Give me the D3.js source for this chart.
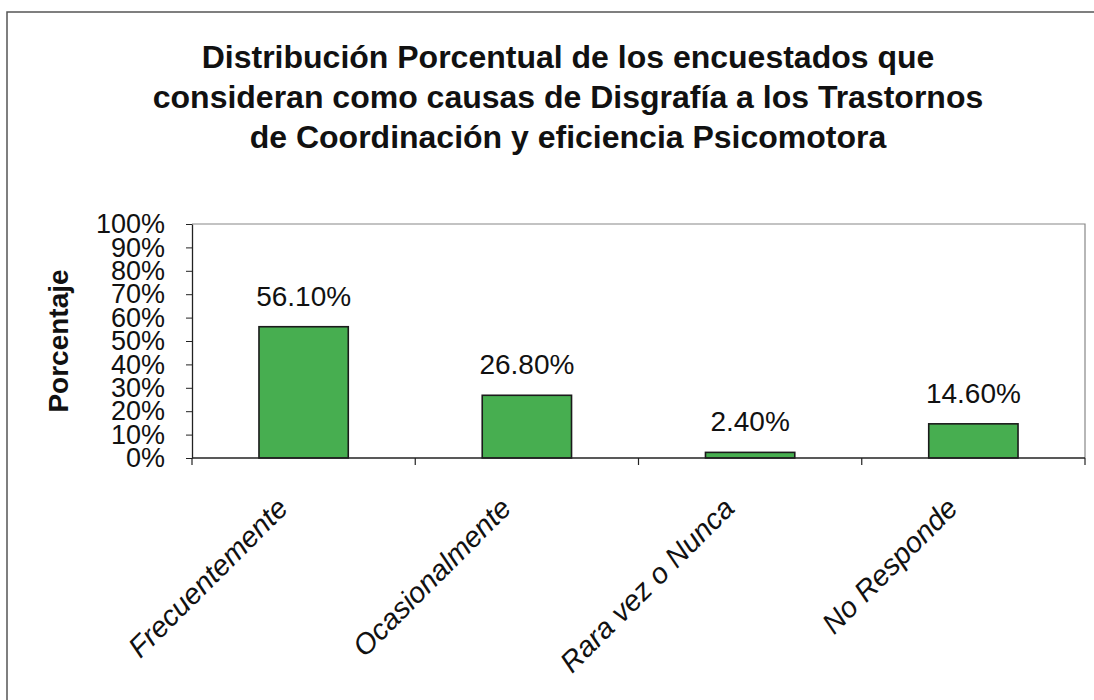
<!DOCTYPE html>
<html>
<head>
<meta charset="utf-8">
<script src="https://cdn.jsdelivr.net/npm/d3@7.9.0/dist/d3.min.js"></script>
<style>
  body { margin: 0; background: #fff; }
  svg { display: block; }
  text { font-family: Arial, "Liberation Sans", sans-serif; fill: #111; }
</style>
</head>
<body>
<svg id="chart" width="1094" height="700"></svg>
<script>
// chart data
const categories = ["Frecuentemente", "Ocasionalmente", "Rara vez o Nunca", "No Responde"];
const values = [56.1, 26.8, 2.4, 14.6];
const yTicks = [0, 10, 20, 30, 40, 50, 60, 70, 80, 90, 100];
const titleLines = [
    "Distribución Porcentual de los encuestados que",
    "consideran como causas de Disgrafía a los Trastornos",
    "de Coordinación y eficiencia Psicomotora"
];

const svg = d3.select("#chart");

// plot area
const plotLeft = 192, plotRight = 1085, plotTop = 224, plotBottom = 458;

// outer frame
svg.append("rect")
    .attr("x", 7).attr("y", 12)
    .attr("width", 1100).attr("height", 700)
    .attr("fill", "none")
    .attr("stroke", "#555")
    .attr("stroke-width", 1.5);

// title
svg.append("g")
    .selectAll("text")
    .data(titleLines)
    .join("text")
    .attr("x", 568)
    .attr("y", (d, i) => 68 + i * 40)
    .attr("text-anchor", "middle")
    .attr("font-size", 32)
    .attr("font-weight", "bold")
    .text(d => d);

const x = d3.scaleBand()
    .domain(categories)
    .range([plotLeft, plotRight])
    .paddingInner(0.6)
    .paddingOuter(0.3);

const y = d3.scaleLinear()
    .domain([0, 100])
    .range([plotBottom, plotTop]);

// plot border (top and right, grey)
svg.append("path")
    .attr("d", `M${plotLeft},${plotTop}H${plotRight}V${plotBottom}`)
    .attr("fill", "none")
    .attr("stroke", "#888")
    .attr("stroke-width", 1.2);

// bars
svg.append("g")
    .selectAll("rect")
    .data(values)
    .join("rect")
    .attr("x", (d, i) => x(categories[i]))
    .attr("y", d => y(d))
    .attr("width", x.bandwidth())
    .attr("height", d => y(0) - y(d))
    .attr("fill", "#47ae50")
    .attr("stroke", "#1b1b1b")
    .attr("stroke-width", 1.6);

// value labels
svg.append("g")
    .selectAll("text")
    .data(values)
    .join("text")
    .attr("x", (d, i) => x(categories[i]) + x.bandwidth() / 2)
    .attr("y", d => y(d) - 21)
    .attr("text-anchor", "middle")
    .attr("font-size", 28)
    .text(d => d.toFixed(2) + "%");

// y axis
const yAxis = svg.append("g")
    .attr("transform", `translate(${plotLeft},0)`)
    .call(d3.axisLeft(y).tickValues(yTicks).tickSize(6).tickSizeOuter(0).tickPadding(21).tickFormat(d => d + "%"));
yAxis.select(".domain").attr("stroke", "#222").attr("stroke-width", 1.3);
yAxis.selectAll(".tick line").attr("stroke", "#222");
yAxis.selectAll(".tick text")
    .attr("font-size", 27)
    .attr("font-family", "Arial, 'Liberation Sans', sans-serif")
    .attr("fill", "#111");

// x axis: ticks between categories
const step = x.step();
const boundaries = d3.range(categories.length + 1).map(i => plotLeft + i * step);
svg.append("line")
    .attr("x1", plotLeft).attr("x2", plotRight)
    .attr("y1", plotBottom).attr("y2", plotBottom)
    .attr("stroke", "#222").attr("stroke-width", 1.3);
svg.append("g")
    .selectAll("line")
    .data(boundaries)
    .join("line")
    .attr("x1", d => d).attr("x2", d => d)
    .attr("y1", plotBottom).attr("y2", plotBottom + 7)
    .attr("stroke", "#222").attr("stroke-width", 1.2);

// category labels, rotated
svg.append("g")
    .selectAll("text")
    .data(categories)
    .join("text")
    .attr("transform", d => `translate(${x(d) + x.bandwidth() / 2 - 14},${plotBottom + 52}) rotate(-45)`)
    .attr("text-anchor", "end")
    .attr("font-size", 29)
    .attr("font-style", "italic")
    .text(d => d);

// y axis title
svg.append("text")
    .attr("transform", `translate(68,${(plotTop + plotBottom) / 2}) rotate(-90)`)
    .attr("text-anchor", "middle")
    .attr("font-size", 28)
    .attr("font-weight", "bold")
    .text("Porcentaje");
</script>
</body>
</html>
